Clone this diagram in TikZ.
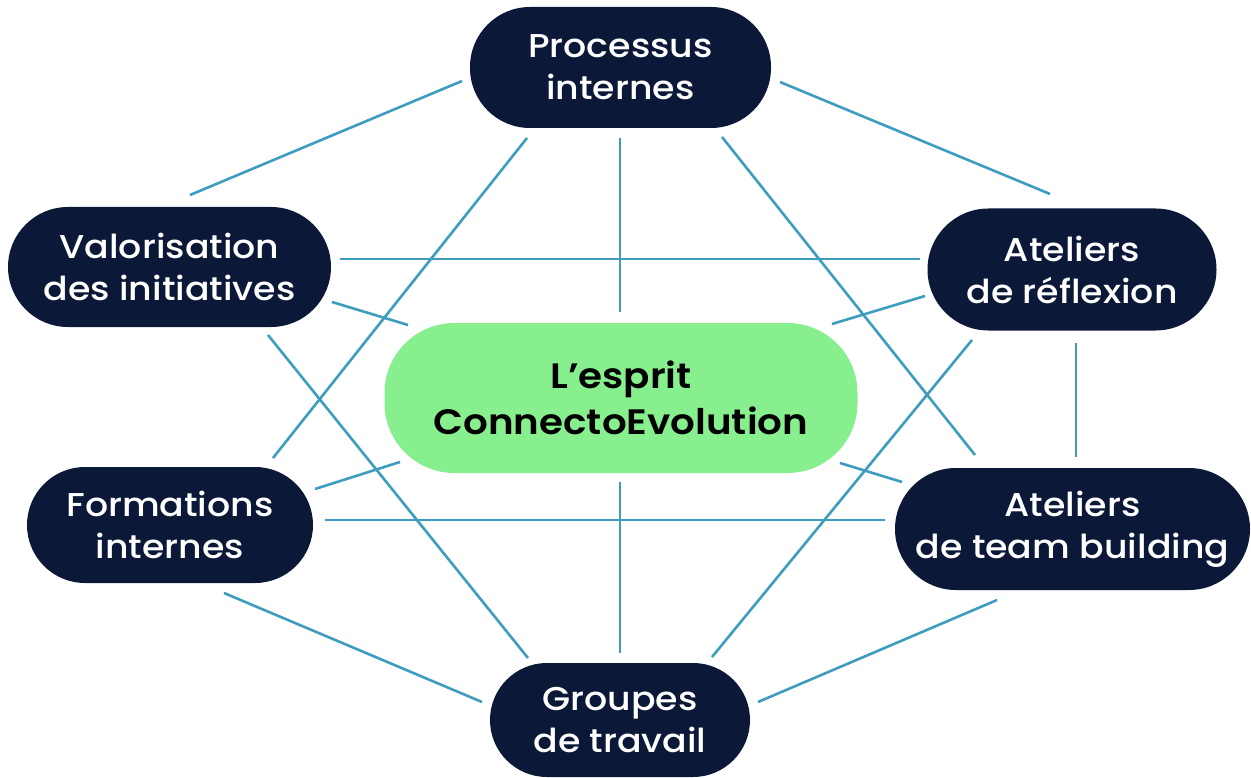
\documentclass[tikz,border=0pt]{standalone}
\usepackage{fontspec}
\setmainfont{Poppins}[FakeStretch=1.1, UprightFont=* Medium, BoldFont=* SemiBold]
\definecolor{navy}{HTML}{0B1838}
\definecolor{mint}{HTML}{88EF8E}
\definecolor{linkc}{HTML}{3E9DBF}
\begin{document}
\begin{tikzpicture}[x=1pt,y=-1pt,
  pill/.style={fill=navy, text=white, inner sep=0pt, align=center,
    font=\fontsize{33}{42}\selectfont},
  core/.style={fill=mint, text=black, inner sep=0pt, align=center,
    rounded corners=70pt, font=\fontsize{35.3}{46}\selectfont\bfseries},
  link/.style={draw=linkc, line width=2.6pt}]
\useasboundingbox (0,0) rectangle (1251,778);
\fill[white] (0,0) rectangle (1251,778);

\node[pill, minimum width=301pt, minimum height=121pt, rounded corners=60pt] (P) at (620.5,67.5) {Processus\\internes};
\node[pill, minimum width=323pt, minimum height=120pt, rounded corners=60pt] (V) at (169.5,267) {Valorisation\\des initiatives};
\node[pill, minimum width=289pt, minimum height=122pt, rounded corners=61pt] (AR) at (1072,269.5) {Ateliers\\de réflexion};
\node[core, minimum width=473pt, minimum height=150pt] (C) at (621,398) {L’esprit\\ConnectoEvolution};
\node[pill, minimum width=286pt, minimum height=116pt, rounded corners=58pt] (F) at (170,525) {Formations\\internes};
\node[pill, minimum width=355pt, minimum height=122pt, rounded corners=61pt] (TB) at (1072.5,529) {Ateliers\\de team building};
\node[pill, minimum width=260pt, minimum height=114pt, rounded corners=57pt] (G) at (620,720) {Groupes\\de travail};

\draw[link] ([shift={(-158.5,13.5)}]P.center) -- ([shift={(20.5,-72)}]V.center);
\draw[link] ([shift={(159.5,14.5)}]P.center) -- ([shift={(-22,-75.5)}]AR.center);
\draw[link] ([shift={(-0.5,70.5)}]P.center) -- ([shift={(-1,-86)}]C.center);
\draw[link] ([shift={(-93.5,70.5)}]P.center) -- ([shift={(103,-67)}]F.center);
\draw[link] ([shift={(101.5,69.5)}]P.center) -- ([shift={(-97.5,-74)}]TB.center);
\draw[link] ([shift={(170.5,-8)}]V.center) -- ([shift={(-152,-10.5)}]AR.center);
\draw[link] ([shift={(162.5,35)}]V.center) -- ([shift={(-213,-73)}]C.center);
\draw[link] ([shift={(98.5,68)}]V.center) -- ([shift={(-92,-62)}]G.center);
\draw[link] ([shift={(-147,26.5)}]AR.center) -- ([shift={(211,-74)}]C.center);
\draw[link] ([shift={(-100,70.5)}]AR.center) -- ([shift={(92,-63)}]G.center);
\draw[link] ([shift={(4,73.5)}]AR.center) -- ([shift={(3.5,-72)}]TB.center);
\draw[link] ([shift={(145,-36)}]F.center) -- ([shift={(-221,64)}]C.center);
\draw[link] ([shift={(155,-5)}]F.center) -- ([shift={(-187.5,-9)}]TB.center);
\draw[link] ([shift={(54,68)}]F.center) -- ([shift={(-138,-18)}]G.center);
\draw[link] ([shift={(219,65)}]C.center) -- ([shift={(-170.5,-47)}]TB.center);
\draw[link] ([shift={(-1,84)}]C.center) -- ([shift={(0,-67)}]G.center);
\draw[link] ([shift={(-75.5,71)}]TB.center) -- ([shift={(138,-18)}]G.center);
\end{tikzpicture}
\end{document}
